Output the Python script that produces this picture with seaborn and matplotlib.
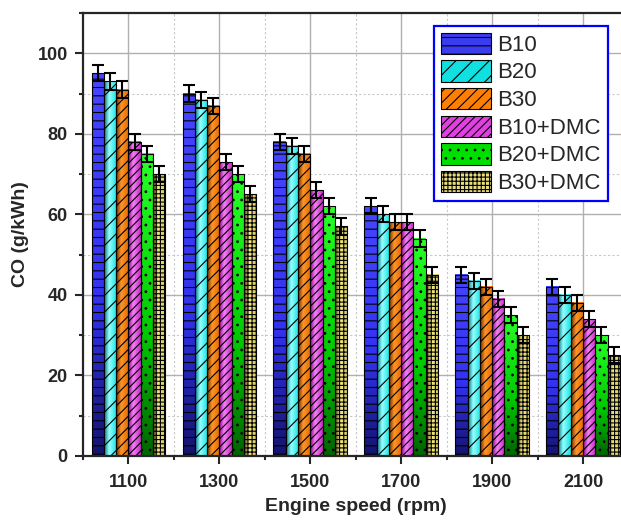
import numpy as np
import pandas as pd
import matplotlib
matplotlib.use("Agg")
import matplotlib.pyplot as plt
import seaborn as sns
from matplotlib.patches import Patch
from matplotlib.ticker import MultipleLocator, FixedLocator

# data
speeds = ["1100", "1300", "1500", "1700", "1900", "2100"]
fuels = ["B10", "B20", "B30", "B10+DMC", "B20+DMC", "B30+DMC"]
b10 = [95, 90, 78, 62, 45, 42]
b20 = [93, 88.5, 77, 60, 43.5, 40]
b30 = [91, 87, 75, 58, 42, 38]
b10_dmc = [78, 73, 66, 58, 39, 34]
b20_dmc = [75, 70, 62, 54, 35, 30]
b30_dmc = [70, 65, 57, 45, 30, 25]
errors = [2, 2, 2, 2, 2, 2]

series = [b10, b20, b30, b10_dmc, b20_dmc, b30_dmc]
df = pd.DataFrame({
    "speed": np.tile(speeds, len(fuels)),
    "fuel": np.repeat(fuels, len(speeds)),
    "co": np.concatenate(series),
})

flat_colors = ["#3b3bf0", "#10e0e0", "#ff8000", "#e040e0", "#00e000", "#e6de80"]
hatches = ["--", "//", "///", "////", "..", "++++"]
# gradient stops: (direction, [rgb stops])
gradients = [
    ("v", [(20, 20, 110), (50, 50, 240), (70, 70, 255)]),
    ("h", [(0, 120, 130), (150, 255, 255), (20, 225, 225)]),
    ("h", [(110, 45, 0), (255, 150, 40), (225, 105, 0)]),
    ("h", [(140, 0, 140), (245, 130, 245), (200, 40, 200)]),
    ("v", [(0, 100, 0), (0, 200, 0), (40, 255, 40)]),
    ("h", [(70, 60, 20), (245, 235, 130), (205, 195, 95)]),
]


def gradient_image(direction, stops, n=64):
    stops = np.array(stops, dtype=float) / 255.0
    pos = np.array([0.0, 0.4, 1.0])
    t = np.linspace(0, 1, n)
    col = np.stack([np.interp(t, pos, stops[:, k]) for k in range(3)], axis=1)
    if direction == "h":
        return col[np.newaxis, :, :]
    return col[:, np.newaxis, :]


sns.set_style("ticks")
plt.rcParams["font.family"] = ["Liberation Sans", "DejaVu Sans"]
plt.rcParams["hatch.linewidth"] = 0.8

fig = plt.figure(figsize=(6.21, 5.23), dpi=100)
ax = fig.add_axes([83 / 621, 67 / 523, 545.5 / 621, 443 / 523])

sns.barplot(data=df, x="speed", y="co", hue="fuel", hue_order=fuels,
            order=speeds, errorbar=None, width=0.81, ax=ax, legend=False)

bar_groups = list(ax.containers)
for i, cont in enumerate(bar_groups):
    direction, stops = gradients[i]
    img = gradient_image(direction, stops)
    xs, ys = [], []
    for bar in cont:
        x, w, h = bar.get_x(), bar.get_width(), bar.get_height()
        ax.imshow(img, extent=[x, x + w, 0, h], origin="lower",
                  aspect="auto", zorder=0.8, interpolation="bilinear")
        bar.set_facecolor("none")
        bar.set_edgecolor("black")
        bar.set_linewidth(0.8)
        bar.set_hatch(hatches[i])
        xs.append(x + w / 2)
        ys.append(h)
    ax.errorbar(xs, ys, yerr=errors, fmt="none", ecolor="black",
                elinewidth=1.5, capsize=4.5, capthick=1.5, zorder=3)

ax.set_xlim(-0.5, len(speeds) - 0.5)
ax.set_ylim(0, 110)
ax.set_axisbelow(True)

ax.yaxis.set_major_locator(FixedLocator([0, 20, 40, 60, 80, 100]))
ax.yaxis.set_minor_locator(MultipleLocator(10))
ax.xaxis.set_minor_locator(MultipleLocator(1, offset=0.5))
ax.grid(which="major", color="#b0b0b0", linewidth=1.0)
ax.grid(which="minor", color="#c8c8c8", linewidth=0.8, linestyle=(0, (2, 2)))

for side in ["left", "bottom", "top"]:
    ax.spines[side].set_linewidth(1.6)
ax.spines["right"].set_visible(False)
ax.tick_params(which="major", direction="out", length=6, width=1.5,
               labelsize=13)
ax.tick_params(axis="x", which="major", pad=7)
ax.tick_params(axis="y", which="major", pad=5)
ax.tick_params(which="minor", direction="out", length=3, width=1.5)
ax.tick_params(axis="x", which="minor", labelbottom=False)
for lab in ax.get_xticklabels() + ax.get_yticklabels():
    lab.set_fontweight("bold")

ax.set_xlabel("Engine speed (rpm)", fontsize=14, fontweight="bold", labelpad=5)
ax.set_ylabel("CO (g/kWh)", fontsize=14, fontweight="bold", labelpad=6)

handles = [Patch(facecolor=flat_colors[i], edgecolor="black", hatch=hatches[i],
                 linewidth=0.8, label=fuels[i]) for i in range(len(fuels))]
leg = ax.legend(handles=handles, loc="upper right",
                bbox_to_anchor=(0.962, 0.971), borderaxespad=0,
                fontsize=16, handlelength=2.25, handleheight=1.1,
                labelspacing=0.2, handletextpad=0.3, borderpad=0.3,
                fancybox=False, framealpha=1)
leg.get_frame().set_edgecolor("blue")
leg.get_frame().set_linewidth(1.6)

fig.savefig("out.png", dpi=100)
